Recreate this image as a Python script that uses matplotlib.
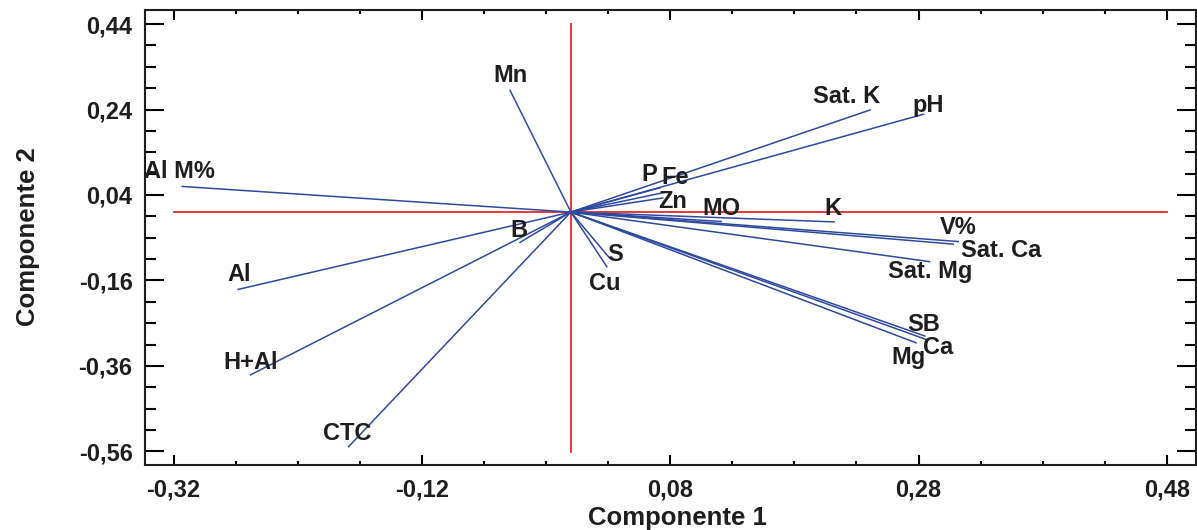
import numpy as np
import matplotlib
matplotlib.use("Agg")
import matplotlib.pyplot as plt
from matplotlib.ticker import FixedLocator, FuncFormatter

# ---- data: loading vectors (Componente 1, Componente 2) ----
variables = ["Mn", "Sat. K", "pH", "Al M%", "P", "Fe", "Zn", "MO", "K",
             "V%", "Sat. Ca", "Sat. Mg", "SB", "Ca", "Mg", "B", "S", "Cu",
             "Al", "H+Al", "CTC"]
comp1 = [-0.049, 0.241, 0.284, -0.313, 0.072, 0.077, 0.074, 0.121, 0.212,
         0.312, 0.308, 0.289, 0.285, 0.287, 0.278, -0.041, 0.031, 0.029,
         -0.268, -0.258, -0.179]
comp2 = [0.285, 0.239, 0.229, 0.060, 0.057, 0.047, 0.033, -0.022, -0.023,
         -0.069, -0.075, -0.116, -0.290, -0.299, -0.306, -0.071, -0.107, -0.128,
         -0.181, -0.381, -0.549]

# label positions (data coordinates)
label_x = [-0.049, 0.222, 0.288, -0.315, 0.0630, 0.0840, 0.082, 0.121, 0.2107,
           0.312, 0.3467, 0.2895, 0.284, 0.296, 0.2718, -0.042, 0.0353, 0.0273,
           -0.267, -0.258, -0.180]
label_y = [0.319, 0.270, 0.249, 0.094, 0.087, 0.080, 0.025, 0.0075, 0.0075,
           -0.0365, -0.091, -0.140, -0.264, -0.318, -0.341, -0.042, -0.100, -0.166,
           -0.147, -0.351, -0.519]

x_major = [-0.32, -0.12, 0.08, 0.28, 0.48]
y_major = [0.44, 0.24, 0.04, -0.16, -0.36, -0.56]

plt.rcParams['font.family'] = ['Liberation Sans', 'DejaVu Sans']

fig = plt.figure(figsize=(11.97, 5.30), dpi=100)
ax = fig.add_axes([145/1197, 1 - 465/530, (1196 - 145)/1197, (465 - 10)/530])

blue = "#2E4A9E"
red = "#E8262B"
ink = "#1E1E1E"

# reference lines
ax.plot([-0.32, 0.48], [0, 0], color=red, lw=1.3, zorder=1)
ax.plot([0, 0], [-0.562, 0.44], color=red, lw=1.3, zorder=1)

for x, y in zip(comp1, comp2):
    ax.plot([0, x], [0, y], color=blue, lw=1.1, zorder=2)

for name, lx, ly in zip(variables, label_x, label_y):
    ax.text(lx, ly, name, ha="center", va="center", fontsize=17,
            fontweight="bold", color=ink, zorder=3)

ax.set_xlim(-0.343, 0.5035)
ax.set_ylim(-0.592, 0.473)

ax.xaxis.set_major_locator(FixedLocator(x_major))
ax.xaxis.set_minor_locator(FixedLocator(np.round(np.arange(-0.32, 0.50, 0.05), 3)))
ax.yaxis.set_major_locator(FixedLocator(y_major))
ax.yaxis.set_minor_locator(FixedLocator(np.round(np.arange(0.44, -0.60, -0.05), 3)))

fmt = FuncFormatter(lambda v, p: ("%.2f" % v).replace(".", ","))
ax.xaxis.set_major_formatter(fmt)
ax.yaxis.set_major_formatter(fmt)

ax.tick_params(axis="x", which="major", direction="in", length=7, width=1.5,
               top=True, bottom=True, labelsize=17, pad=10)
ax.tick_params(axis="x", which="minor", direction="in", length=3, width=1.5,
               top=True, bottom=True)
ax.tick_params(axis="y", which="major", direction="in", length=14, width=1.5,
               left=True, right=True, labelsize=17, pad=9)
ax.tick_params(axis="y", which="minor", direction="in", length=8, width=1.5,
               left=True, right=True)
for lab in ax.get_xticklabels() + ax.get_yticklabels():
    lab.set_fontweight("bold")
    lab.set_color(ink)

for s in ax.spines.values():
    s.set_linewidth(1.5)
    s.set_color(ink)

ax.set_xlabel("Componente 1", fontsize=18.5, fontweight="bold", color=ink, va="center")
ax.set_ylabel("Componente 2", fontsize=18.5, fontweight="bold", color=ink, va="center")
ax.xaxis.set_label_coords((677 - 145) / 1051, (465 - 518) / 455)
ax.yaxis.set_label_coords((28 - 145) / 1051, (465 - 237) / 455)

fig.savefig("out.png", dpi=100)
